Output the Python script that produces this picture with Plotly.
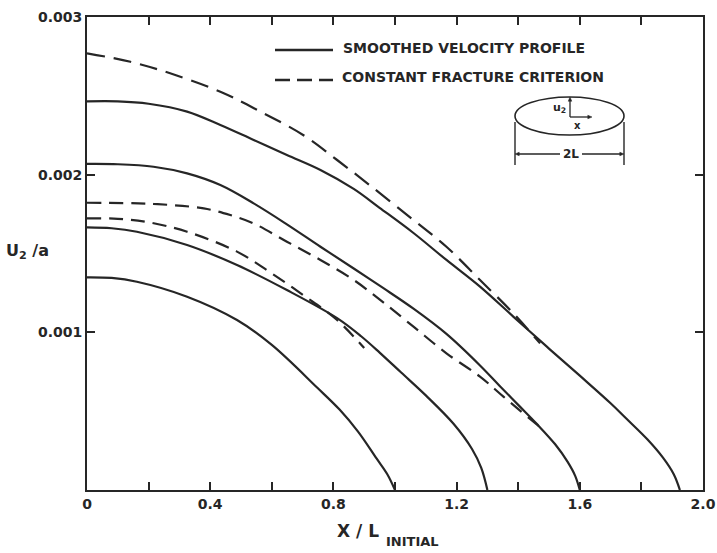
import plotly.graph_objects as go

# ---------------- data ----------------
x_solid_1 = [0, 0.08, 0.162, 0.325, 0.487, 0.6, 0.747, 0.82, 0.88, 0.94, 0.975, 1.0]
y_solid_1 = [0.001349, 0.001345, 0.001321, 0.001226, 0.001078, 0.000920, 0.000650,
             0.000510, 0.000370, 0.000200, 0.000100, 0.0]

x_solid_2 = [0, 0.08, 0.162, 0.325, 0.487, 0.649, 0.812, 0.89, 0.951, 1.02, 1.1, 1.19,
             1.25, 1.28, 1.3]
y_solid_2 = [0.001666, 0.001660, 0.001638, 0.001554, 0.001427, 0.001268, 0.001090,
             0.000975, 0.000870, 0.000745, 0.000600, 0.000420, 0.000260, 0.000140, 0.0]

x_solid_3 = [0, 0.1, 0.216, 0.325, 0.433, 0.541, 0.649, 0.758, 0.866, 0.96, 1.06, 1.167,
             1.276, 1.34, 1.4, 1.46, 1.52, 1.56, 1.585, 1.6]
y_solid_3 = [0.002068, 0.002066, 0.002050, 0.002008, 0.001934, 0.001818, 0.001685,
             0.001543, 0.001405, 0.001283, 0.001150, 0.000990, 0.000790, 0.000660,
             0.000540, 0.000420, 0.000290, 0.000180, 0.000090, 0.0]

x_solid_4 = [0, 0.1, 0.2, 0.325, 0.433, 0.541, 0.649, 0.758, 0.866, 0.95, 1.06, 1.167,
             1.276, 1.384, 1.493, 1.6, 1.7, 1.75, 1.82, 1.87, 1.905, 1.925]
y_solid_4 = [0.002465, 0.002465, 0.002450, 0.002400, 0.002315, 0.002220, 0.002125,
             0.002030, 0.001910, 0.001790, 0.001630, 0.001459, 0.001290, 0.001100,
             0.000909, 0.000725, 0.000550, 0.000455, 0.000320, 0.000205, 0.000100, 0.0]

x_dash_low = [0, 0.1, 0.195, 0.325, 0.487, 0.595, 0.703, 0.812, 0.9]
y_dash_low = [0.001723, 0.001720, 0.001700, 0.001638, 0.001512, 0.001380, 0.001235,
              0.001078, 0.000900]

x_dash_mid = [0, 0.216, 0.379, 0.465, 0.541, 0.649, 0.758, 0.866, 0.962, 1.06, 1.167,
              1.276, 1.352, 1.47]
y_dash_mid = [0.001822, 0.001814, 0.001786, 0.001744, 0.001691, 0.001575, 0.001459,
              0.001332, 0.001190, 0.001036, 0.000867, 0.000719, 0.000592, 0.000400]

x_dash_top = [0, 0.141, 0.27, 0.433, 0.563, 0.703, 0.812, 0.92, 1.06, 1.167, 1.276,
              1.384, 1.471]
y_dash_top = [0.002770, 0.002716, 0.002643, 0.002526, 0.002400, 0.002250, 0.002093,
              0.001930, 0.001712, 0.001543, 0.001332, 0.001121, 0.000930]

x_tickvals = [0, 0.4, 0.8, 1.2, 1.6, 2.0]
x_ticktext = ["0", "0.4", "0.8", "1.2", "1.6", "2.0"]
x_minor_ticks = [0.2, 0.6, 1.0, 1.4, 1.8]
y_tickvals = [0.001, 0.002, 0.003]
y_ticktext = ["0.001", "0.002", "0.003"]

legend_solid = "SMOOTHED VELOCITY PROFILE"
legend_dash = "CONSTANT FRACTURE CRITERION"

# ---------------- figure ----------------
INK = "#262626"
FONT = "DejaVu Sans"

fig = go.Figure()

solid_sets = [(x_solid_1, y_solid_1), (x_solid_2, y_solid_2),
              (x_solid_3, y_solid_3), (x_solid_4, y_solid_4)]
for xs, ys in solid_sets:
    fig.add_trace(go.Scatter(x=xs, y=ys, mode="lines",
                             line=dict(color=INK, width=2.2, shape="spline", smoothing=1.0),
                             showlegend=False, hoverinfo="skip"))

dash_sets = [(x_dash_low, y_dash_low, "14px,8px"),
             (x_dash_mid, y_dash_mid, "14px,8px"),
             (x_dash_top, y_dash_top, "18px,9px")]
for xs, ys, dp in dash_sets:
    fig.add_trace(go.Scatter(x=xs, y=ys, mode="lines",
                             line=dict(color=INK, width=2.2, dash=dp, shape="spline", smoothing=1.0),
                             showlegend=False, hoverinfo="skip"))

# plot area in pixels: x 87..703, y 17..490
L, R, T, B = 87, 703, 17, 490
def px(p):
    return (p - L) / (R - L)
def py(p):
    return (B - p) / (B - T)

def seg(x0, y0, x1, y1, w=1.4, dash=None):
    ln = dict(color=INK, width=w)
    if dash:
        ln["dash"] = dash
    return dict(type="line", xref="paper", yref="paper", x0=px(x0), x1=px(x1),
                y0=py(y0), y1=py(y1), line=ln)

def head(tx, ty, dxp, dyp, size=5):
    # filled triangle, tip at (tx, ty), pointing along (dxp, dyp) unit direction (pixels)
    bx, by = tx - dxp * size * 1.4, ty - dyp * size * 1.4
    nx, ny = -dyp * size * 0.6, dxp * size * 0.6
    pts = [(tx, ty), (bx + nx, by + ny), (bx - nx, by - ny)]
    path = "M " + " L ".join(f"{px(a):.5f},{py(b):.5f}" for a, b in pts) + " Z"
    return dict(type="path", xref="paper", yref="paper", path=path,
                fillcolor=INK, line=dict(color=INK, width=0.5))

shapes = [
    # legend samples
    seg(275, 50, 333, 50, w=2.4),
    seg(275, 80, 333, 80, w=2.4, dash="15px,7px"),
    # inset ellipse
    dict(type="circle", xref="paper", yref="paper", x0=px(515), x1=px(624),
         y0=py(97), y1=py(135), line=dict(color=INK, width=1.6)),
    # u2 and x arrows inside ellipse
    seg(570, 117, 570, 101, w=1.3),
    head(570, 97, 0, -1, size=3),
    seg(570, 117, 588, 117, w=1.3),
    head(592, 117, 1, 0, size=3),
    # dimension lines
    seg(515, 122, 515, 165),
    seg(624, 122, 624, 165),
    seg(519, 154, 560, 154, w=1.3),
    seg(582, 154, 620, 154, w=1.3),
    head(515, 154, -1, 0, size=3),
    head(624, 154, 1, 0, size=3),
]

annotations = []
tfont = dict(family=FONT, size=14, color=INK, weight="bold")
annotations.append(dict(xref="paper", yref="paper", x=px(341), y=py(48), text=legend_solid,
                        showarrow=False, xanchor="left", yanchor="middle", font=tfont))
annotations.append(dict(xref="paper", yref="paper", x=px(340), y=py(77), text=legend_dash,
                        showarrow=False, xanchor="left", yanchor="middle", font=tfont))
# axis titles
annotations.append(dict(xref="paper", yref="paper", x=px(27), y=py(251),
                        text="U<sub>2</sub> /a", showarrow=False, xanchor="center",
                        yanchor="middle", font=dict(family=FONT, size=16, color=INK, weight="bold")))
annotations.append(dict(xref="paper", yref="paper", x=px(381), y=py(531), text="X / L",
                        showarrow=False, xanchor="right", yanchor="middle",
                        font=dict(family=FONT, size=17, color=INK, weight="bold")))
annotations.append(dict(xref="paper", yref="paper", x=px(384), y=py(541), text="INITIAL",
                        showarrow=False, xanchor="left", yanchor="middle",
                        font=dict(family=FONT, size=13, color=INK, weight="bold")))
# inset text
annotations.append(dict(xref="paper", yref="paper", x=px(559), y=py(108), text="u<sub>2</sub>",
                        showarrow=False, xanchor="center", yanchor="middle",
                        font=dict(family=FONT, size=11, color=INK, weight="bold")))
annotations.append(dict(xref="paper", yref="paper", x=px(577), y=py(125), text="x",
                        showarrow=False, xanchor="center", yanchor="middle",
                        font=dict(family=FONT, size=10, color=INK, weight="bold")))
annotations.append(dict(xref="paper", yref="paper", x=px(571), y=py(154), text="2L",
                        showarrow=False, xanchor="center", yanchor="middle",
                        font=dict(family=FONT, size=12, color=INK, weight="bold")))

fig.update_layout(
    width=717, height=553,
    margin=dict(l=L, r=717 - R, t=T, b=553 - B, autoexpand=False),
    paper_bgcolor="white", plot_bgcolor="white",
    showlegend=False,
    shapes=shapes, annotations=annotations,
    font=dict(family=FONT, color=INK),
)
fig.update_xaxes(range=[0, 2.0], tickvals=x_tickvals, ticktext=x_ticktext,
                 ticks="inside", ticklen=8, tickwidth=2, tickcolor=INK,
                 minor=dict(tickvals=x_minor_ticks, ticks="inside", ticklen=8,
                            tickwidth=2, tickcolor=INK, showgrid=False),
                 showline=True, linewidth=2, linecolor=INK, mirror="ticks",
                 showgrid=False, zeroline=False, automargin=False,
                 tickfont=dict(family=FONT, size=14, color=INK, weight="bold"))
fig.update_yaxes(range=[0, 0.003], tickvals=y_tickvals, ticktext=y_ticktext,
                 ticks="inside", ticklen=8, tickwidth=2, tickcolor=INK,
                 showline=True, linewidth=2, linecolor=INK, mirror="ticks",
                 showgrid=False, zeroline=False, automargin=False,
                 tickfont=dict(family=FONT, size=14, color=INK, weight="bold"))

fig.write_html("out.html",
               config={"displayModeBar": False},
               post_script="document.body.style.margin='0px';document.body.style.padding='0px';"
                           "document.documentElement.style.overflow='hidden';")
